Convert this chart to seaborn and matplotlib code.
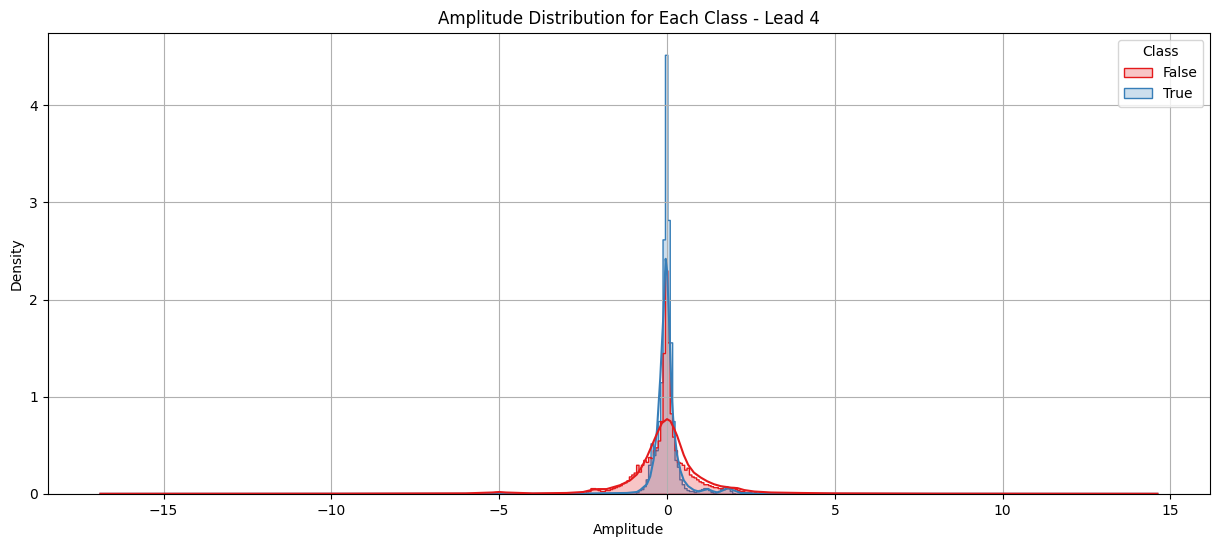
#%% Import
import numpy as np
import pandas as pd
import matplotlib
matplotlib.use("Agg")
import matplotlib.pyplot as plt
import seaborn as sns

#%% Data (density per bin, bins of width ~0.0716)
amp_bins = [-2.32, -2.24, -2.17, -2.10, -2.03, -1.96, -1.89, -1.82, -1.74, -1.67,
            -1.60, -1.53, -1.46, -1.39, -1.31, -1.24, -1.17, -1.10, -1.03, -0.96,
            -0.88, -0.81, -0.74, -0.67, -0.60, -0.53, -0.46, -0.38, -0.31, -0.24,
            -0.17, -0.10, -0.03, 0.05, 0.12, 0.19, 0.26, 0.33, 0.40, 0.48,
            0.55, 0.62, 0.69, 0.76, 0.83, 0.91, 0.98, 1.05, 1.12, 1.19,
            1.26, 1.34, 1.41, 1.48, 1.55, 1.62, 1.69, 1.77, 1.84, 1.91,
            1.98, 2.05, 2.12, 2.20, 2.27, 2.34, 2.41, 2.48]

red_density = [0.03, 0.06, 0.06, 0.05, 0.04,
               0.03, 0.03, 0.04, 0.04, 0.05, 0.06,
               0.07, 0.08, 0.09, 0.11, 0.12, 0.14, 0.18, 0.20, 0.22,
               0.30, 0.23, 0.30, 0.35, 0.33, 0.38, 0.37, 0.45, 0.48, 0.55,
               0.75, 1.45, 2.30, 1.56, 0.83,
               0.59, 0.45, 0.33, 0.32, 0.30, 0.25, 0.27, 0.20, 0.18, 0.17, 0.15, 0.13,
               0.12, 0.10, 0.10, 0.09, 0.08, 0.07,
               0.07, 0.06, 0.06, 0.05, 0.06, 0.07, 0.06, 0.07, 0.05, 0.04,
               0.03, 0.03, 0.02, 0.02, 0.02]

red_tail_amp = [-5.11, -5.04, -4.90, -3.00, -2.70, -2.55, -2.40,
                2.60, 2.80, 3.00, 3.30, 3.60, 4.00]
red_tail_density = [0.02, 0.02, 0.01, 0.01, 0.015, 0.02, 0.025,
                    0.02, 0.015, 0.015, 0.01, 0.01, 0.008]

blue_amp = amp_bins[20:61]
blue_density = [0.02, 0.04, 0.05, 0.08, 0.15, 0.30,
                0.52, 0.40, 0.45, 0.75, 1.15, 2.62,
                4.52, 2.82, 1.56, 0.75, 0.35, 0.28,
                0.15, 0.10, 0.06, 0.04, 0.03, 0.03,
                0.02, 0.03, 0.04, 0.05, 0.06, 0.06,
                0.04, 0.02, 0.01, 0.02, 0.03, 0.05,
                0.07, 0.08, 0.06, 0.03, 0.01]

# kde curves
kde_red_x = [-16.88, -10, -6, -5.2, -5.0, -4.8, -4, -3, -2.5, -2.2, -2.05, -1.8,
             -1.4, -1.1, -0.9, -0.75, -0.6, -0.45, -0.3, -0.15, 0, 0.1, 0.2,
             0.3, 0.4, 0.5, 0.63, 0.8, 1.0, 1.2, 1.4, 1.6, 1.9, 2.1, 2.3, 2.6,
             3.1, 4, 5, 8, 14.61]
kde_red_y = [0.002, 0.003, 0.006, 0.015, 0.02, 0.015, 0.006, 0.01, 0.02, 0.045, 0.05, 0.05,
             0.09, 0.14, 0.2, 0.28, 0.38, 0.5, 0.62, 0.73, 0.77, 0.75, 0.68,
             0.6, 0.5, 0.4, 0.3, 0.22, 0.17, 0.13, 0.1, 0.08, 0.065, 0.06, 0.04, 0.025,
             0.015, 0.01, 0.006, 0.003, 0.002]

kde_blue_x = [-16.88, -3, -1.2, -0.9, -0.8, -0.6, -0.5, -0.4, -0.3, -0.2, -0.1, -0.04,
              0.0, 0.05, 0.1, 0.15, 0.2, 0.3, 0.4, 0.5, 0.63, 0.8, 0.95, 1.1, 1.22,
              1.35, 1.5, 1.65, 1.82, 2.0, 2.2, 3, 14.61]
kde_blue_y = [0.001, 0.002, 0.01, 0.02, 0.04, 0.1, 0.18, 0.35, 0.65, 1.2, 1.9, 2.42,
              2.3, 1.9, 1.4, 0.95, 0.7, 0.4, 0.24, 0.14, 0.08, 0.04, 0.025, 0.04, 0.05,
              0.03, 0.015, 0.035, 0.06, 0.035, 0.01, 0.002, 0.001]

#%% Build frames
df = pd.concat([
    pd.DataFrame({"Amplitude": amp_bins + red_tail_amp,
                  "Density": red_density + red_tail_density, "Class": False}),
    pd.DataFrame({"Amplitude": blue_amp, "Density": blue_density, "Class": True}),
], ignore_index=True)

kde_df = pd.concat([
    pd.DataFrame({"Amplitude": kde_blue_x, "Density": kde_blue_y, "Class": True}),
    pd.DataFrame({"Amplitude": kde_red_x, "Density": kde_red_y, "Class": False}),
], ignore_index=True)

palette = {False: "#e41a1c", True: "#377eb8"}

#%% Plot
fig, ax = plt.subplots(figsize=(12.2, 5.47), dpi=100)
fig.subplots_adjust(left=0.039, right=0.992, top=0.94, bottom=0.097)

sns.histplot(data=df, x="Amplitude", weights="Density", hue="Class",
             hue_order=[False, True], palette=palette, bins=440,
             binrange=(-16.88, 14.61), element="step", stat="count",
             common_norm=False, ax=ax)

for cls in [True, False]:
    sub = kde_df[kde_df["Class"] == cls]
    sns.lineplot(data=sub, x="Amplitude", y="Density", color=palette[cls],
                 linewidth=1.5, legend=False, ax=ax)

ax.set_title("Amplitude Distribution for Each Class - Lead 4")
ax.set_xlabel("Amplitude")
ax.set_ylabel("Density")
ax.grid(True)
sns.move_legend(ax, "upper right", title="Class")

fig.savefig("out.png", dpi=100)
